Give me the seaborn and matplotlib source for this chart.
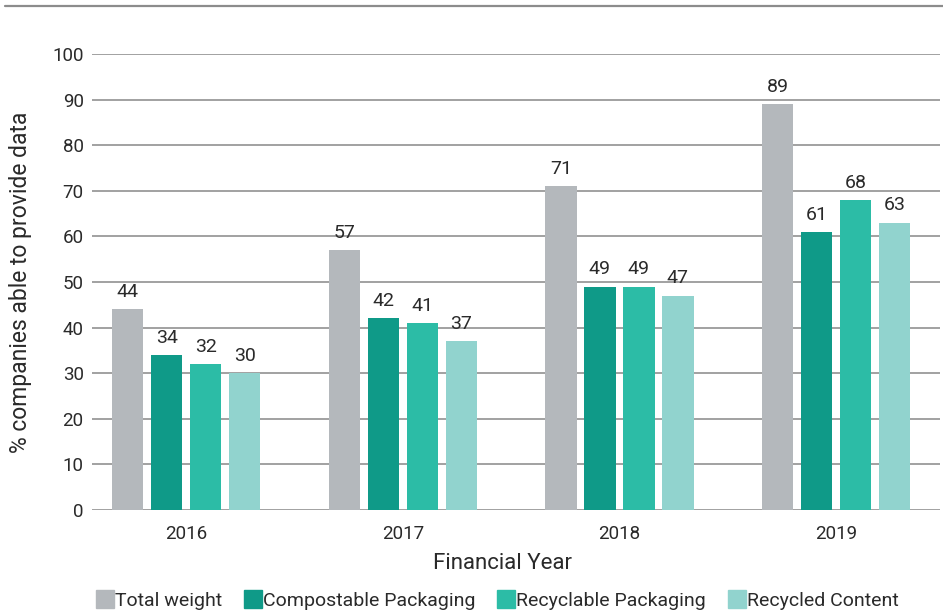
import matplotlib
matplotlib.use("Agg")
import matplotlib.pyplot as plt
from matplotlib.lines import Line2D
import seaborn as sns
import pandas as pd

years = ["2016", "2017", "2018", "2019"]
series = ["Total weight", "Compostable Packaging", "Recyclable Packaging", "Recycled Content"]
total_weight = [44, 57, 71, 89]
compostable = [34, 42, 49, 61]
recyclable = [32, 41, 49, 68]
recycled_content = [30, 37, 47, 63]
colors = ["#B4B8BC", "#0F9A88", "#2CBCA6", "#91D3CE"]

rows = []
for name, vals in zip(series, [total_weight, compostable, recyclable, recycled_content]):
    for y, v in zip(years, vals):
        rows.append({"year": y, "series": name, "value": v})
df = pd.DataFrame(rows)

sns.set_theme(style="white")
plt.rcParams["font.family"] = ["Roboto", "DejaVu Sans"]
text_color = "#2A2A2A"

fig = plt.figure(figsize=(9.43, 6.16), dpi=100)
ax = fig.add_axes([92 / 943, 1 - 510 / 616, (940 - 92) / 943, (510 - 54) / 616])

sns.barplot(data=df, x="year", y="value", hue="series", hue_order=series,
            order=years, palette=colors, width=0.72, gap=0.2, ax=ax,
            saturation=1, legend=False, errorbar=None, linewidth=0)

for cont in ax.containers:
    ax.bar_label(cont, fmt="%d", padding=6, fontsize=14, color=text_color)

ax.set_ylim(0, 100)
ax.set_xlim(-0.435, 3.48)
ax.set_yticks(range(0, 101, 10))
ax.yaxis.grid(True, color="#9A9A9A", linewidth=1.3)
ax.set_axisbelow(True)
for s in ax.spines.values():
    s.set_visible(False)
ax.tick_params(axis="both", length=0, labelsize=13.5, colors=text_color, pad=6)
ax.tick_params(axis="x", pad=11)
ax.set_xlabel("Financial Year", fontsize=16, color=text_color)
ax.xaxis.set_label_coords(0.4835, -0.095)
ax.set_ylabel("% companies able to provide data", fontsize=16.5, color=text_color)
ax.yaxis.set_label_coords(-0.071, 0.5)

# thin rule across the top of the figure
fig.add_artist(Line2D([5 / 943, 1], [1 - 6 / 616, 1 - 6 / 616], color="#8C8C8C",
                      linewidth=1.6, transform=fig.transFigure))

handles = [Line2D([0], [0], marker="s", linestyle="", markersize=13,
                  markerfacecolor=c, markeredgecolor=c) for c in colors]
fig.legend(handles, series, loc="center", bbox_to_anchor=(0.527, 1 - 601 / 616),
           ncol=4, frameon=False, fontsize=14, handletextpad=0.0,
           columnspacing=1.1, handlelength=1.0, labelcolor=text_color)

fig.savefig("out.png", dpi=100)
